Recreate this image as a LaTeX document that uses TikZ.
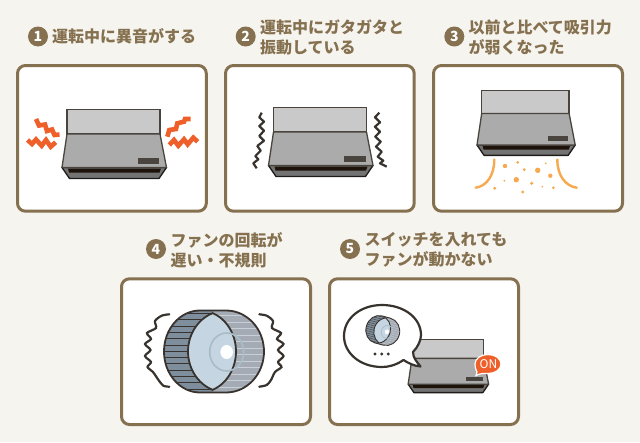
\documentclass[tikz,border=0pt]{standalone}
\usepackage{fontspec}
\setmainfont{Noto Sans CJK JP}
\definecolor{paper}{HTML}{F6F4EF}
\definecolor{frame}{HTML}{85714F}
\definecolor{zig}{HTML}{EE5F2A}
\definecolor{dust}{HTML}{F6A94F}
\definecolor{ink}{HTML}{4A443E}
\definecolor{coal}{HTML}{38332E}
\definecolor{ribdark}{HTML}{7F8E9C}
\definecolor{ribgrey}{HTML}{A5ABB5}
\definecolor{riblight}{HTML}{C8CFD7}
\definecolor{lens}{HTML}{C5D5E2}
\definecolor{ring}{HTML}{A9BDC9}
\tikzset{
  panel/.style={draw=frame,line width=3pt,fill=white,rounded corners=8pt},
  badge/.style={circle,fill=frame,text=white,inner sep=0pt,minimum size=20pt,font=\bfseries\fontsize{14}{14}\selectfont},
  heading/.style={anchor=west,inner sep=0pt,text=frame,align=left,font=\bfseries\fontsize{16}{20}\selectfont},
  zigzag/.style={draw=zig,line width=4.6pt,miter limit=2},
  shake/.style={draw=coal,line width=2.2pt,line join=round},
  swoosh/.style={draw=dust,line width=2.4pt,line cap=round},
  wavy/.style={draw=coal,line width=2.2pt,line cap=round},
  hood/.pic={
    \draw [draw=ink,line width=1.3pt,fill=black!21] (0,0) rectangle (93,24.5);
    \draw [draw=black!60!ink,line width=1.3pt,fill=black!55,line join=round] (-5,58) -- (2.5,69) -- (92,69) -- (99.5,58) -- cycle;
    \fill [black!85!brown] (1,59) -- (94,59) -- (92.5,63) -- (2,63) -- cycle;
    \draw [draw=ink,line width=1.3pt,fill=black!33,line join=round] (0,24.5) -- (93,24.5) -- (99.5,58) -- (-5,58) -- cycle;
    \fill [ink] (70.5,48.5) rectangle (92,54);
  },
  fan/.pic={
    \fill [ribdark] (-13,-41) arc[start angle=-90,end angle=-270,x radius=36,y radius=41] -- (0,41) -- (0,-41) -- cycle;
    \fill [ribgrey] (13,-41) arc[start angle=-90,end angle=90,x radius=38,y radius=41] -- (0,41) -- (0,-41) -- cycle;
    \begin{scope}
      \clip (-13,-41) arc[start angle=-90,end angle=-270,x radius=36,y radius=41] -- (0,41) -- (0,-41) -- cycle;
      \foreach \ry in {-38,-31.7,...,40}
        \draw [draw=coal,line width=\ribw] (-50,\ry) -- (0,\ry);
    \end{scope}
    \begin{scope}
      \clip (13,-41) arc[start angle=-90,end angle=90,x radius=38,y radius=41] -- (0,41) -- (0,-41) -- cycle;
      \foreach \ry in {-36,-29.5,...,40}
        \draw [draw=riblight,line width=\ribw] (0,\ry) -- (52,\ry);
    \end{scope}
    \draw [draw=coal,line width=\rimw,fill=lens] (-0.35,-38.4) arc[start angle=-69.4,end angle=69.4,x radius=36,y radius=41] arc[start angle=110.6,end angle=249.4,x radius=38,y radius=41] -- cycle;
    \draw [draw=ring,line width=\ribw*1.9] (13.7,0.5) ellipse (17 and 19);
    \fill [white] (13.7,0.5) ellipse (6.3 and 7);
    \draw [draw=coal,line width=\rimw] (-13,-41) -- (13,-41) arc[start angle=-90,end angle=90,x radius=38,y radius=41] -- (-13,41) arc[start angle=90,end angle=270,x radius=36,y radius=41] -- cycle;
  },
}
\begin{document}
\begin{tikzpicture}[x=1pt,y=-1pt]
\useasboundingbox (0,0) rectangle (640,442);
\fill [paper] (0,0) rectangle (640,442);
% frames
\draw [panel] (17.5,65.5) rectangle (206.3,211.2);
\draw [panel] (225.5,65.5) rectangle (414.2,211.2);
\draw [panel] (433.5,65.5) rectangle (622.5,211.2);
\draw [panel] (121.5,278.8) rectangle (310.5,424.5);
\draw [panel] (329.5,278.8) rectangle (518.5,424.5);
% headings
\node [badge] (badge1) at (38,36.5) {1};
\node [heading] (head1) at (52,36.5) {運転中に異音がする};
\node [badge] (badge2) at (245.7,36.5) {2};
\node [heading] (head2) at (260,37) {運転中にガタガタと\\振動している};
\node [badge] (badge3) at (454.3,36.5) {3};
\node [heading] (head3) at (468.3,37) {以前と比べて吸引力\\が弱くなった};
\node [badge] (badge4) at (156,249) {4};
\node [heading] (head4) at (170.5,250) {ファンの回転が\\遅い・不規則};
\node [badge] (badge5) at (350,249) {5};
\node [heading] (head5) at (364.5,250) {スイッチを入れても\\ファンが動かない};
% hoods
\pic at (67,109.5) {hood};
\pic at (273.5,107.5) {hood};
\pic [scale=0.94] at (481.7,90.5) {hood};
\pic [scale=0.77] at (412,339.5) {hood};
% noise
\draw [zigzag] (36,119) -- (39,125.5) -- (45,124.5) -- (47,131) -- (52,129.5) -- (54.5,135) -- (59.5,134.5);
\draw [zigzag] (27.5,140) -- (32,144) -- (36,139.5) -- (41.7,145.7) -- (46,140) -- (50.7,146.7) -- (55.7,142.3);
\draw [zigzag] (167.3,136.7) -- (169.3,130) -- (176,129) -- (177.3,123.3) -- (184,121.7) -- (185,119) -- (190.7,119);
\draw [zigzag] (169.3,145) -- (174,140) -- (178.3,145.7) -- (184,139.3) -- (187.7,144.3) -- (193.3,137.7) -- (197.7,141.7);
% shaking
\draw [shake] (261.7,112.7) -- (259.3,117.3) -- (264,121.7) -- (259.3,126) -- (264,130.7) -- (259.3,136) -- (264,140.7) -- (257.3,146) -- (260.7,150.7) -- (255.3,156) -- (258.3,159.3) -- (253.3,163.3) -- (256.7,168.3);
\draw [shake] (379.3,112.7) -- (375,117.3) -- (380,122.3) -- (375,126.7) -- (380,131.7) -- (375.3,136.7) -- (380.7,141.7) -- (376,146.7) -- (381.7,151.7) -- (377.7,156.7) -- (383.3,160.7) -- (380,163.3) -- (386.7,166.7);
% suction
\draw [swoosh] (494.3,159.5) .. controls (494.3,175) and (487,186) .. (475.7,187.7);
\draw [swoosh] (557.3,159.5) .. controls (557.3,175) and (565,186) .. (576.7,187.7);
\foreach \dx/\dy/\dr in {505/166/2.2,517.7/162.3/1.5,524.3/169.7/1.6,537.7/170.3/2.7,545.7/163.3/1,550.3/175.7/2.2,504.3/180.7/1,516.3/179.7/2.7,531.7/183.3/1.7,542.3/186.7/.9,553.3/187.7/1.5,494.7/188.3/1.6,522.7/192/1.6}
  \fill [dust] (\dx,\dy) circle (\dr);
% fan
\def\ribw{0.9pt}\def\rimw{1.8pt}
\pic at (213,351.5) {fan};
\draw [wavy] plot [smooth] coordinates {(169.3,314.3) (161.7,315.7) (155,321) (156,328) (147,333) (151,339) (145,344) (150.5,350) (145,356) (151,362) (147.5,367) (153,372) (158.5,380) (163.3,385.7) (169.3,386.7)};
\draw [wavy] plot [smooth] coordinates {(259.3,314.3) (266.7,315.7) (273,321) (272,328) (281,333) (277,339) (283.5,344) (278,350) (283.5,356) (278,362) (281.5,367) (275,372) (271,380) (266.7,385) (259.3,386.7)};
% speech bubble
\draw [draw=coal,line width=2.2pt,fill=white,line join=round] (403.5,360) .. controls (396,365) and (389,367) .. (382,367) .. controls (360,367) and (344,353) .. (344,336) .. controls (344,318) and (361,305) .. (382,305) .. controls (404,305) and (421,318) .. (421,335) .. controls (421,340) and (418,347) .. (413,352) .. controls (413,358) and (417,362) .. (420.5,366.5) .. controls (414,366) and (408,363) .. (403.5,360) -- cycle;
\def\ribw{0.35pt}\def\rimw{0.9pt}
\pic [scale=0.34,rotate=-15] at (382.5,330.5) {fan};
\foreach \dx in {375,381.7,388.3}
  \fill [coal] (\dx,354) circle (1.6);
% on mark
\draw [draw=white,line width=1.2pt,fill=zig] (477,372) .. controls (475,368) and (475,365) .. (475,364) .. controls (475,358.5) and (481,354.5) .. (488,354.5) .. controls (495,354.5) and (501,358.5) .. (501,364) .. controls (501,369.5) and (495,373.5) .. (488,373.5) .. controls (484,373.5) and (481,373) .. (476,375.5) -- cycle;
\node [inner sep=0pt,text=white,font=\fontsize{12}{12}\selectfont] (onmark) at (488.5,364) {ON};
\end{tikzpicture}
\end{document}
